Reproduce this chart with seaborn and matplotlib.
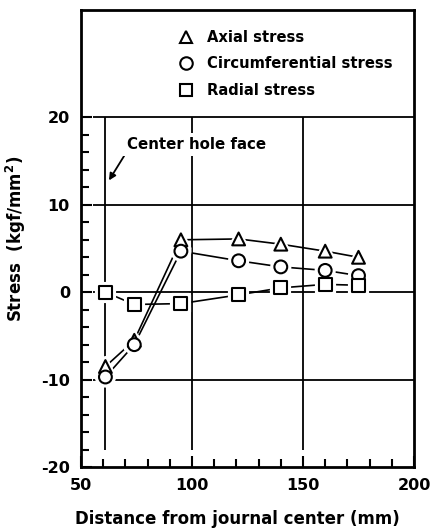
import numpy as np
import pandas as pd
import matplotlib
matplotlib.use("Agg")
import matplotlib.pyplot as plt
from matplotlib.lines import Line2D
from matplotlib.ticker import FixedLocator
import seaborn as sns

# values
distance = [61, 74, 95, 121, 140, 160, 175]
axial = [-8.5, -5.5, 6.0, 6.1, 5.5, 4.7, 4.0]
circumferential = [-9.7, -6.0, 4.7, 3.6, 2.9, 2.5, 1.9]
radial = [0.0, -1.4, -1.3, -0.3, 0.5, 0.9, 0.8]

series_names = ["Axial stress", "Circumferential stress", "Radial stress"]
series_markers = ["^", "o", "s"]

x_ticks = [50, 100, 150, 200]
y_ticks = [-20, -10, 0, 10, 20]
grid_x = [61, 100, 150]
grid_y = [-10, 0, 10, 20]

df = pd.DataFrame({
    "Distance": distance * 3,
    "Stress": axial + circumferential + radial,
    "Series": np.repeat(series_names, len(distance)),
})

sns.set_style("ticks")
plt.rcParams["font.family"] = ["DejaVu Sans"]
plt.rcParams["font.weight"] = "bold"
plt.rcParams["mathtext.default"] = "bf"
plt.rcParams["axes.unicode_minus"] = False
for key in ["text.color", "axes.labelcolor", "xtick.color", "ytick.color"]:
    plt.rcParams[key] = "black"

fig = plt.figure(figsize=(4.3, 5.3), dpi=100)
ax = fig.add_axes([81 / 430, 63 / 530, 333 / 430, 457 / 530])

# grid / reference lines
ax.hlines(grid_y, 55.5, 200, color="black", lw=1.3, zorder=1)
ax.vlines(grid_x, -18, 20, color="black", lw=1.3, zorder=1)

marker_map = dict(zip(series_names, series_markers))
sns.lineplot(data=df, x="Distance", y="Stress", hue="Series",
             palette=["black"] * 3, lw=1.2, legend=False, sort=False,
             ax=ax, zorder=2)
# white halo so the lines stop short of the markers
sns.scatterplot(data=df, x="Distance", y="Stress", style="Series",
                markers=marker_map, s=150, color="white", edgecolor="white",
                linewidth=3, legend=False, ax=ax, zorder=3)
sns.scatterplot(data=df, x="Distance", y="Stress", style="Series",
                markers=marker_map, s=85, color="white", edgecolor="black",
                linewidth=1.5, legend=False, ax=ax, zorder=4)

ax.set_xlim(50, 200)
ax.set_ylim(-20, 32.3)
ax.xaxis.set_major_locator(FixedLocator(x_ticks))
ax.xaxis.set_minor_locator(FixedLocator(np.arange(60, 200, 10)))
ax.yaxis.set_major_locator(FixedLocator(y_ticks))
ax.yaxis.set_minor_locator(FixedLocator(np.arange(-20, 21, 2)))
ax.tick_params(axis="both", which="both", direction="in", width=1.5,
               top=False, right=False, labelsize=11.5, color="black",
               labelcolor="black")
ax.tick_params(axis="both", which="major", length=8)
ax.tick_params(axis="both", which="minor", length=6)
ax.tick_params(axis="x", pad=8)
ax.tick_params(axis="y", pad=8)
for lab in ax.get_xticklabels() + ax.get_yticklabels():
    lab.set_fontweight("bold")

for sp in ax.spines.values():
    sp.set_linewidth(2)
    sp.set_color("black")

ax.set_xlabel("Distance from journal center (mm)", fontsize=12,
              fontweight="bold", color="black")
ax.set_ylabel("Stress  (kgf/mm$^{2}$)", fontsize=12, fontweight="bold",
              color="black")
ax.xaxis.set_label_coords(0.47, -0.093)
ax.yaxis.set_label_coords(-0.158, 0.5)

ax.annotate("Center hole face", xy=(62.6, 12.8), xytext=(70.5, 16.9),
            fontsize=10.8, fontweight="bold", va="center", color="black",
            bbox=dict(boxstyle="square,pad=0.25", fc="white", ec="none"),
            arrowprops=dict(arrowstyle="-|>", color="black", lw=1.3,
                            relpos=(0, 0), shrinkA=0, shrinkB=0,
                            mutation_scale=10))

handles = [Line2D([], [], marker=m, ls="none", mfc="white", mec="black",
                  mew=1.5, ms=9) for m in series_markers]
leg = ax.legend(handles, series_names, loc="upper left",
                bbox_to_anchor=(0.27, 0.973), frameon=False, borderpad=0,
                handlelength=1.0, handletextpad=0.95, labelspacing=0.78,
                prop={"size": 10.6, "weight": "bold"})
for t in leg.get_texts():
    t.set_color("black")

fig.savefig("out.png", dpi=100)
